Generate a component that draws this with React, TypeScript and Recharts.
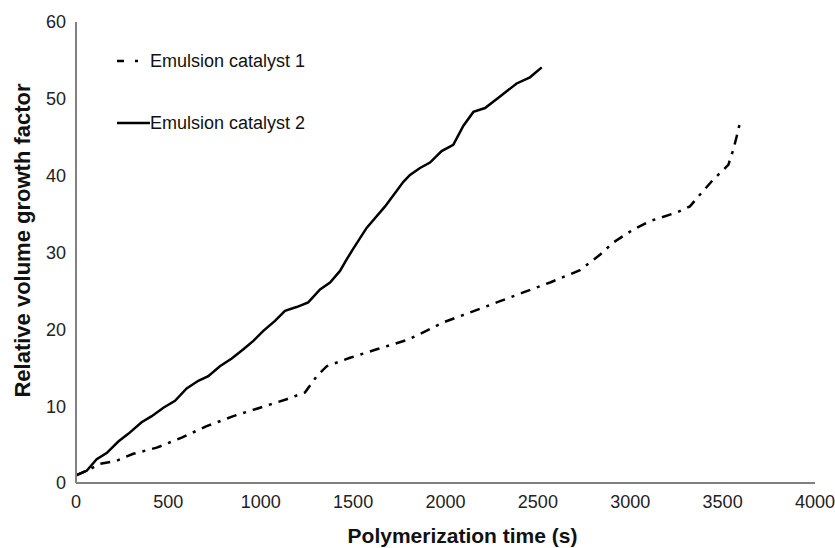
import React from 'react';
import { LineChart, Line, XAxis, YAxis, Legend } from 'recharts';

const xTicks = [0, 500, 1000, 1500, 2000, 2500, 3000, 3500, 4000];
const yTicks = [0, 10, 20, 30, 40, 50, 60];

const seriesNames = ['Emulsion catalyst 1', 'Emulsion catalyst 2'];

const cat1Time = [0, 76, 130, 220, 310, 437, 572, 707, 852, 996, 1140, 1240, 1303, 1357, 1483, 1628, 1790, 1862, 1988, 2133, 2277, 2421, 2566, 2728, 2836, 2908, 3017, 3107, 3251, 3323, 3369, 3450, 3531, 3558, 3576, 3598];
const cat1Val = [1.0, 1.8, 2.5, 2.9, 3.8, 4.6, 5.9, 7.4, 8.7, 9.8, 10.9, 11.8, 13.9, 15.2, 16.3, 17.4, 18.6, 19.4, 20.9, 22.2, 23.5, 24.8, 26.1, 27.7, 29.7, 31.3, 33.0, 34.1, 35.2, 36.0, 37.3, 39.5, 41.4, 43.4, 45.1, 47.3];

const cat2Time = [0, 58, 112, 166, 229, 283, 355, 410, 473, 536, 599, 662, 716, 779, 843, 906, 960, 1014, 1077, 1131, 1194, 1257, 1321, 1375, 1429, 1465, 1501, 1573, 1673, 1772, 1808, 1862, 1916, 1979, 2042, 2097, 2151, 2214, 2295, 2385, 2457, 2521];
const cat2Val = [1.0, 1.6, 3.1, 3.9, 5.4, 6.4, 7.9, 8.7, 9.8, 10.7, 12.3, 13.3, 13.9, 15.2, 16.2, 17.4, 18.5, 19.8, 21.1, 22.4, 22.9, 23.5, 25.2, 26.1, 27.6, 29.1, 30.5, 33.2, 36.0, 39.2, 40.1, 41.0, 41.7, 43.2, 44.0, 46.5, 48.3, 48.8, 50.3, 52.0, 52.8, 54.1];

const cat1Data = cat1Time.map((t, i) => ({ t, v: cat1Val[i] }));
const cat2Data = cat2Time.map((t, i) => ({ t, v: cat2Val[i] }));

const FONT = '"Liberation Sans", Arial, Helvetica, sans-serif';
const DASH1 = '10 7 3 7';

const LegendContent = () => (
  <div style={{ fontFamily: FONT }}>
    {seriesNames.map((name, i) => (
      <div key={name} style={{ display: 'flex', alignItems: 'center', height: 26, marginBottom: i === 0 ? 36 : 0 }}>
        <svg width={33} height={26} style={{ display: 'block' }}>
          <line x1={0} y1={13} x2={i === 0 ? 24 : 33} y2={13} stroke="#000" strokeWidth={2.5} strokeDasharray={i === 0 ? '7 11 3 20' : undefined} />
        </svg>
        <span style={{ fontSize: 18, color: '#111', whiteSpace: 'nowrap' }}>{name}</span>
      </div>
    ))}
  </div>
);

export default function App() {
  return (
    <div style={{ position: 'fixed', left: 0, top: 0, width: 835, height: 548, fontFamily: FONT, background: '#fff' }}>
      <LineChart width={835} height={548} margin={{ top: 22, right: 20, bottom: 0, left: 0 }}>
        <XAxis
          type="number"
          dataKey="t"
          domain={[0, 4000]}
          ticks={xTicks}
          allowDataOverflow
          height={65}
          tickLine={false}
          tickSize={6}
          tickMargin={6}
          axisLine={{ stroke: '#808080', strokeWidth: 2 }}
          tick={{ fontSize: 18, fill: '#222', fontFamily: FONT }}
          label={{ value: 'Polymerization time (s)', position: 'insideBottom', offset: 5, dx: 17, style: { fontSize: 21, fontWeight: 'bold', fill: '#111', fontFamily: FONT } }}
        />
        <YAxis
          type="number"
          domain={[0, 60]}
          ticks={yTicks}
          width={76}
          tickLine={false}
          tickSize={6}
          tickMargin={4}
          axisLine={{ stroke: '#808080', strokeWidth: 2 }}
          tick={{ fontSize: 18, fill: '#222', fontFamily: FONT }}
          label={{ value: 'Relative volume growth factor', angle: -90, position: 'insideLeft', offset: 22, dy: -12, style: { textAnchor: 'middle', fontSize: 22, fontWeight: 'bold', fill: '#111', fontFamily: FONT } }}
        />
        <Legend
          layout="horizontal"
          verticalAlign="middle"
          align="center"
          content={<LegendContent />}
          wrapperStyle={{ position: 'absolute', left: 117, top: 48, width: 260, height: 100 }}
        />
        <Line data={cat1Data} dataKey="v" name={seriesNames[0]} type="linear" stroke="#000" strokeWidth={2.5} strokeDasharray={DASH1} dot={false} isAnimationActive={false} />
        <Line data={cat2Data} dataKey="v" name={seriesNames[1]} type="linear" stroke="#000" strokeWidth={2.5} dot={false} isAnimationActive={false} />
      </LineChart>
    </div>
  );
}
